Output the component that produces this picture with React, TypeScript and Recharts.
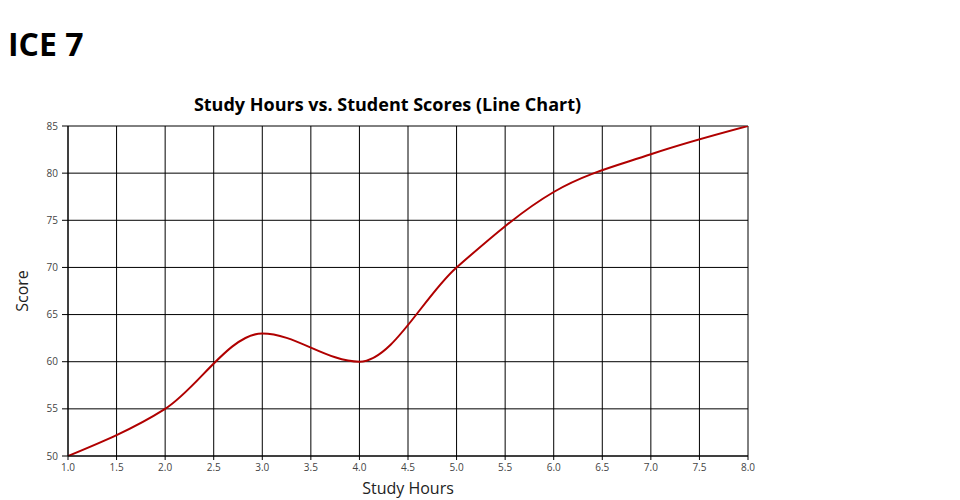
import { LineChart, Line, XAxis, YAxis, CartesianGrid } from 'recharts';

const hours = [1, 2, 3, 4, 5, 6, 7, 8];
const scores = [50, 55, 63, 60, 70, 78, 82, 85];
const xTicks = [1, 1.5, 2, 2.5, 3, 3.5, 4, 4.5, 5, 5.5, 6, 6.5, 7, 7.5, 8];
const yTicks = [50, 55, 60, 65, 70, 75, 80, 85];

const FONT = '"Open Sans", "Noto Sans", sans-serif';

const data = hours.map((h, i) => ({ hours: h, score: scores[i] }));

const tickStyle = { fontSize: 10, fill: '#444', fontFamily: FONT };

export default function App() {
  return (
    <div
      style={{
        position: 'absolute',
        left: 0,
        top: 0,
        width: 960,
        height: 500,
        background: '#fff',
        fontFamily: FONT,
      }}
    >
      <div
        style={{
          position: 'absolute',
          left: 8,
          top: 28,
          fontSize: 32,
          lineHeight: 1,
          fontWeight: 700,
          color: '#000',
          whiteSpace: 'nowrap',
        }}
      >
        ICE 7
      </div>
      <div
        style={{
          position: 'absolute',
          left: 387.5,
          top: 95,
          transform: 'translateX(-50%)',
          fontSize: 18,
          lineHeight: 1,
          fontWeight: 700,
          color: '#000',
          whiteSpace: 'nowrap',
        }}
      >
        Study Hours vs. Student Scores (Line Chart)
      </div>
      <LineChart
        width={960}
        height={500}
        data={data}
        margin={{ top: 126, right: 212, bottom: 0, left: 0 }}
      >
        <CartesianGrid stroke="#000" strokeWidth={1} horizontal vertical />
        <XAxis
          dataKey="hours"
          type="number"
          domain={[1, 8]}
          ticks={xTicks}
          tickFormatter={(v: number) => v.toFixed(1)}
          height={44}
          tickSize={4}
          tickMargin={4}
          stroke="#000"
          tick={tickStyle}
          tickLine={{ stroke: '#000' }}
          allowDataOverflow
        />
        <YAxis
          type="number"
          domain={[50, 85]}
          ticks={yTicks}
          width={68}
          tickSize={6}
          tickMargin={4}
          stroke="#000"
          tick={tickStyle}
          tickLine={{ stroke: '#000' }}
          allowDataOverflow
        />
        <Line
          type="monotone"
          dataKey="score"
          stroke="#b00000"
          strokeWidth={2}
          dot={false}
          activeDot={false}
          isAnimationActive={false}
        />
      </LineChart>
      <div
        style={{
          position: 'absolute',
          left: 408,
          top: 480,
          transform: 'translateX(-50%)',
          fontSize: 16,
          lineHeight: 1,
          color: '#222',
          whiteSpace: 'nowrap',
        }}
      >
        Study Hours
      </div>
      <div
        style={{
          position: 'absolute',
          left: 22,
          top: 291,
          transform: 'translate(-50%, -50%) rotate(-90deg)',
          fontSize: 16,
          lineHeight: 1,
          color: '#222',
          whiteSpace: 'nowrap',
        }}
      >
        Score
      </div>
    </div>
  );
}
